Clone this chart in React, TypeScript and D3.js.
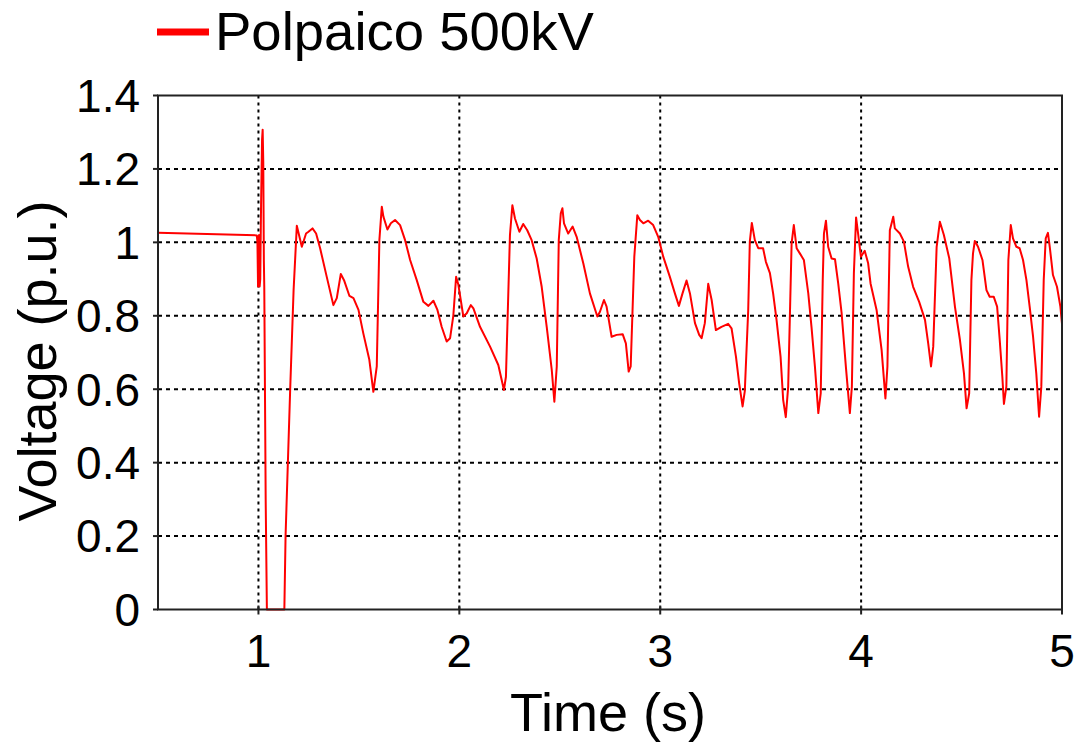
import React from "react";
import * as d3 from "d3";

const seriesName = "Polpaico 500kV";
const xTickValues = [1, 2, 3, 4, 5];
const yTickValues = [0, 0.2, 0.4, 0.6, 0.8, 1, 1.2, 1.4];
const xTitle = "Time (s)";
const yTitle = "Voltage (p.u.)";

const timeValues = [
  0.5, 0.992, 0.995, 0.998, 1.001, 1.003, 1.006, 1.009, 1.013, 1.018, 1.021, 1.024, 1.027, 1.029, 1.036, 1.042,
  1.129, 1.135, 1.158, 1.175, 1.191, 1.216, 1.237, 1.249, 1.269, 1.287, 1.307, 1.34, 1.373, 1.39, 1.41, 1.426,
  1.453, 1.473, 1.498, 1.522, 1.552, 1.572, 1.589, 1.602, 1.614, 1.622, 1.642, 1.659, 1.68, 1.705, 1.73, 1.755,
  1.788, 1.821, 1.846, 1.871, 1.891, 1.912, 1.937, 1.954, 1.97, 1.984, 1.995, 2.02, 2.037, 2.057, 2.07, 2.103,
  2.153, 2.194, 2.222, 2.232, 2.252, 2.264, 2.277, 2.299, 2.318, 2.338, 2.36, 2.385, 2.41, 2.435, 2.46, 2.473,
  2.485, 2.495, 2.505, 2.513, 2.521, 2.542, 2.564, 2.584, 2.617, 2.65, 2.687, 2.7, 2.72, 2.733, 2.758, 2.783,
  2.813, 2.829, 2.843, 2.853, 2.871, 2.886, 2.899, 2.916, 2.94, 2.965, 2.99, 3.015, 3.048, 3.073, 3.093, 3.111,
  3.131, 3.148, 3.173, 3.194, 3.206, 3.222, 3.239, 3.256, 3.277, 3.305, 3.338, 3.355, 3.377, 3.393, 3.41, 3.421,
  3.438, 3.446, 3.456, 3.471, 3.488, 3.512, 3.526, 3.546, 3.562, 3.579, 3.599, 3.612, 3.625, 3.637, 3.645, 3.654,
  3.665, 3.679, 3.695, 3.715, 3.737, 3.753, 3.77, 3.787, 3.799, 3.809, 3.815, 3.825, 3.836, 3.853, 3.87, 3.886,
  3.903, 3.924, 3.944, 3.954, 3.964, 3.975, 3.985, 3.999, 4.018, 4.035, 4.047, 4.077, 4.102, 4.121, 4.131, 4.143,
  4.16, 4.168, 4.193, 4.213, 4.234, 4.259, 4.289, 4.318, 4.334, 4.348, 4.359, 4.376, 4.392, 4.412, 4.439, 4.467,
  4.492, 4.512, 4.525, 4.538, 4.549, 4.557, 4.566, 4.582, 4.604, 4.624, 4.64, 4.66, 4.677, 4.69, 4.703, 4.711,
  4.723, 4.733, 4.745, 4.756, 4.773, 4.789, 4.806, 4.823, 4.839, 4.856, 4.872, 4.886, 4.897, 4.909, 4.919, 4.93,
  4.939, 4.955, 4.975, 4.992, 5.0,
];

const voltageValues = [
  1.026, 1.019, 1.0, 0.88, 0.95, 1.02, 0.88, 0.9, 1.1, 1.28, 1.307, 1.22, 0.95, 0.88, 0.3, 0,
  0, 0.2, 0.6, 0.87, 1.045, 0.988, 1.024, 1.029, 1.038, 1.024, 0.984, 0.906, 0.829, 0.848, 0.914, 0.897,
  0.854, 0.848, 0.816, 0.752, 0.68, 0.593, 0.662, 1.006, 1.097, 1.07, 1.035, 1.052, 1.061, 1.047, 1.006, 0.952,
  0.897, 0.838, 0.827, 0.841, 0.816, 0.77, 0.73, 0.739, 0.8, 0.906, 0.885, 0.798, 0.807, 0.829, 0.82, 0.77,
  0.716, 0.666, 0.598, 0.634, 1.02, 1.101, 1.065, 1.029, 1.05, 1.033, 1.006, 0.956, 0.879, 0.77, 0.653, 0.566,
  0.662, 1.006, 1.079, 1.093, 1.052, 1.024, 1.043, 1.015, 0.943, 0.861, 0.798, 0.811, 0.843, 0.825, 0.743, 0.748,
  0.75, 0.725, 0.648, 0.662, 0.961, 1.074, 1.061, 1.052, 1.059, 1.047, 1.015, 0.961, 0.906, 0.861, 0.827, 0.861,
  0.896, 0.861, 0.78, 0.748, 0.739, 0.78, 0.887, 0.843, 0.761, 0.77, 0.778, 0.766, 0.689, 0.616, 0.553, 0.595,
  0.815, 1.002, 1.053, 1.006, 0.984, 0.984, 0.947, 0.916, 0.861, 0.789, 0.689, 0.571, 0.524, 0.607, 0.789, 0.997,
  1.047, 0.984, 0.97, 0.952, 0.861, 0.77, 0.662, 0.535, 0.589, 0.897, 1.024, 1.059, 0.988, 0.956, 0.954, 0.888,
  0.807, 0.662, 0.535, 0.607, 0.916, 1.068, 1.024, 0.961, 0.977, 0.943, 0.888, 0.816, 0.707, 0.575, 0.662, 1.033,
  1.07, 1.038, 1.024, 1.002, 0.934, 0.879, 0.838, 0.789, 0.725, 0.662, 0.716, 0.988, 1.056, 1.02, 0.956, 0.825,
  0.734, 0.643, 0.548, 0.589, 0.897, 0.97, 1.004, 0.988, 0.952, 0.87, 0.852, 0.852, 0.825, 0.734, 0.634, 0.56,
  0.607, 0.952, 1.047, 1.011, 0.988, 0.984, 0.952, 0.897, 0.825, 0.743, 0.643, 0.525, 0.607, 0.897, 1.011, 1.026,
  0.988, 0.911, 0.879, 0.825, 0.778,
];

const W = 1076;
const H = 742;
const M = { left: 158, right: 1062, top: 95.5, bottom: 609.5 };
const FONT = "'Liberation Sans', Arial, Helvetica, sans-serif";

export default function App() {
  const x = d3.scaleLinear().domain([0.5, 5]).range([M.left, M.right]);
  const y = d3.scaleLinear().domain([0, 1.4]).range([M.bottom, M.top]);
  const points: [number, number][] = timeValues.map((t, i) => [t, voltageValues[i]]);
  const line = d3
    .line<[number, number]>()
    .x((d) => x(d[0]))
    .y((d) => y(d[1]));
  const fmt = (v: number) => String(+v.toFixed(1));

  return (
    <div style={{ position: "absolute", left: 0, top: 0 }}>
      <svg width={W} height={H} viewBox={`0 0 ${W} ${H}`} style={{ display: "block", background: "#fff" }}>
        <rect x={0} y={0} width={W} height={H} fill="#fff" />
        {/* grid */}
        {yTickValues
          .filter((v) => v > 0 && v < 1.4)
          .map((v) => (
            <line key={"gy" + v} x1={M.left} x2={M.right} y1={y(v)} y2={y(v)} stroke="#000" strokeWidth={2} strokeDasharray="4,4" />
          ))}
        {xTickValues
          .filter((v) => v < 5)
          .map((v) => (
            <line key={"gx" + v} x1={x(v)} x2={x(v)} y1={M.top} y2={M.bottom} stroke="#000" strokeWidth={2} strokeDasharray="3,4" />
          ))}
        {/* data */}
        <path d={line(points) || ""} fill="none" stroke="#ff0000" strokeWidth={2} strokeLinejoin="round" />
        {/* frame */}
        <rect x={M.left} y={M.top} width={M.right - M.left} height={M.bottom - M.top} fill="none" stroke="#222" strokeWidth={2} />
        {/* ticks */}
        {xTickValues.map((v) => (
          <g key={"xt" + v}>
            <line x1={x(v)} x2={x(v)} y1={M.bottom - 4} y2={M.bottom + 5} stroke="#222" strokeWidth={2} />
            <text x={x(v)} y={667} fontFamily={FONT} fontSize={46} textAnchor="middle" fill="#000">
              {fmt(v)}
            </text>
          </g>
        ))}
        {yTickValues.map((v) => (
          <g key={"yt" + v}>
            <line x1={M.left - 5} x2={M.left} y1={y(v)} y2={y(v)} stroke="#222" strokeWidth={2} />
            <text x={140} y={y(v)} dy="0.355em" fontFamily={FONT} fontSize={46} textAnchor="end" fill="#000">
              {fmt(v)}
            </text>
          </g>
        ))}
        {/* axis titles */}
        <text x={608} y={731} fontFamily={FONT} fontSize={54} textAnchor="middle" fill="#000">
          {xTitle}
        </text>
        <text
          transform={`translate(56, 361) rotate(-90)`}
          fontFamily={FONT}
          fontSize={54}
          textAnchor="middle"
          fill="#000"
        >
          {yTitle}
        </text>
        {/* legend */}
        <line x1={157} x2={209} y1={32} y2={32} stroke="#ff0000" strokeWidth={7} />
        <text x={215} y={50} fontFamily={FONT} fontSize={54.5} fill="#000">
          {seriesName}
        </text>
      </svg>
    </div>
  );
}
